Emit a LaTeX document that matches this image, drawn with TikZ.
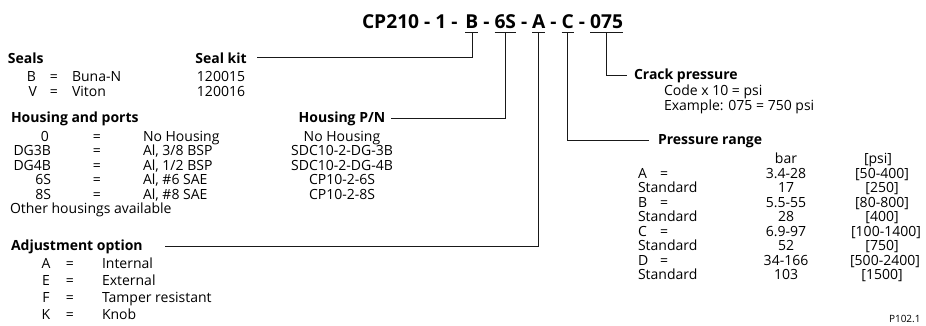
\documentclass[tikz,border=0pt]{standalone}
\usepackage{fontspec}
\setmainfont{Open Sans}
\usetikzlibrary{positioning}

\begin{document}
\begin{tikzpicture}[
    x=1pt, y=-1pt,
    txt/.style={anchor=base west, inner sep=0pt, outer sep=0pt,
      font=\fontsize{14}{16}\selectfont},
    ctr/.style={txt, anchor=base},
    rgt/.style={txt, anchor=base east},
    head/.style={txt, font=\fontsize{14}{16}\selectfont\bfseries},
    chead/.style={head, anchor=base},
    code/.style={txt, font=\fontsize{19.2}{23}\selectfont\bfseries},
    nxt/.style={anchor=base west},
    lead/.style={line width=0.8pt, draw=black!90}
  ]
    \useasboundingbox (0,0) rectangle (926,325);

    \node[code] (cp) at (362,28) {CP210 - 1 -};
    \node[code, right=8pt of cp.base east, nxt] (cB) {B};
    \node[code, right=5pt of cB.base east, nxt] (d1) {-};
    \node[code, right=5pt of d1.base east, nxt] (c6S) {6S};
    \node[code, right=5pt of c6S.base east, nxt] (d2) {-};
    \node[code, right=5pt of d2.base east, nxt] (cA) {A};
    \node[code, right=5pt of cA.base east, nxt] (d3) {-};
    \node[code, right=5pt of d3.base east, nxt] (cC) {C};
    \node[code, right=5pt of cC.base east, nxt] (d4) {-};
    \node[code, right=5pt of d4.base east, nxt] (c075) {075};

    \node[head] (seals) at (8,63) {Seals};
    \node[rgt] at (36,81) {B};
    \node[ctr] at (54,81) {=};
    \node[txt] at (72,81) {Buna-N};
    \node[rgt] at (37,96) {V};
    \node[ctr] at (54,96) {=};
    \node[txt] at (72,96) {Viton};
    \node[chead] (sealkit) at (221,63) {Seal kit};
    \node[ctr] at (221,81) {120015};
    \node[ctr] at (221,96) {120016};

    \node[head] (housing) at (11,122) {Housing and ports};
    \node[chead] (housingpn) at (342,122) {Housing P/N};
    \node[ctr] at (45,141) {0};
    \node[ctr] at (97,141) {=};
    \node[txt] at (143,141) {No Housing};
    \node[ctr] at (342,141) {No Housing};
    \node[rgt] at (51,155.5) {DG3B};
    \node[ctr] at (97,155.5) {=};
    \node[txt] at (143,155.5) {Al, 3/8 BSP};
    \node[ctr] at (342,155.5) {SDC10-2-DG-3B};
    \node[rgt] at (51,170) {DG4B};
    \node[ctr] at (97,170) {=};
    \node[txt] at (143,170) {Al, 1/2 BSP};
    \node[ctr] at (342,170) {SDC10-2-DG-4B};
    \node[rgt] at (51,184.5) {6S};
    \node[ctr] at (97,184.5) {=};
    \node[txt] at (143,184.5) {Al, \#6 SAE};
    \node[ctr] at (342,184.5) {CP10-2-6S};
    \node[rgt] at (51,199) {8S};
    \node[ctr] at (97,199) {=};
    \node[txt] at (143,199) {Al, \#8 SAE};
    \node[ctr] at (342,199) {CP10-2-8S};
    \node[txt] at (10,213.5) {Other housings available};

    \node[head] (adjust) at (11,250) {Adjustment option};
    \node[ctr] at (46,268.5) {A};
    \node[ctr] at (70,268.5) {=};
    \node[txt] at (102,268.5) {Internal};
    \node[ctr] at (46,285.5) {E};
    \node[ctr] at (70,285.5) {=};
    \node[txt] at (102,285.5) {External};
    \node[ctr] at (46,302.5) {F};
    \node[ctr] at (70,302.5) {=};
    \node[txt] at (102,302.5) {Tamper resistant};
    \node[ctr] at (46,319.5) {K};
    \node[ctr] at (70,319.5) {=};
    \node[txt] at (102,319.5) {Knob};

    \node[head] (crack) at (634,79) {Crack pressure};
    \node[txt] at (664,95) {Code x 10 = psi};
    \node[txt] at (664,110) {Example: 075 = 750 psi};

    \node[head] (prange) at (658,144) {Pressure range};
    \node[ctr] at (786,163) {bar};
    \node[ctr] at (878,163) {[psi]};
    \node[txt] at (638,178) {A};
    \node[ctr] at (664,178) {=};
    \node[ctr] at (786,178) {3.4-28};
    \node[ctr] at (882,178) {[50-400]};
    \node[txt] at (638,192.5) {Standard};
    \node[ctr] at (786,192.5) {17};
    \node[ctr] at (882,192.5) {[250]};
    \node[txt] at (638,207) {B};
    \node[ctr] at (664,207) {=};
    \node[ctr] at (786,207) {5.5-55};
    \node[ctr] at (882,207) {[80-800]};
    \node[txt] at (638,221.5) {Standard};
    \node[ctr] at (786,221.5) {28};
    \node[ctr] at (882,221.5) {[400]};
    \node[txt] at (638,236) {C};
    \node[ctr] at (664,236) {=};
    \node[ctr] at (786,236) {6.9-97};
    \node[ctr] at (886,236) {[100-1400]};
    \node[txt] at (638,250.5) {Standard};
    \node[ctr] at (786,250.5) {52};
    \node[ctr] at (882,250.5) {[750]};
    \node[txt] at (638,265) {D};
    \node[ctr] at (664,265) {=};
    \node[ctr] at (786,265) {34-166};
    \node[ctr] at (885,265) {[500-2400]};
    \node[txt] at (638,279.5) {Standard};
    \node[ctr] at (786,279.5) {103};
    \node[ctr] at (882,279.5) {[1500]};

    \node[txt, font=\fontsize{10}{12}\selectfont] (ref) at (889,322) {P102.1};

    \draw[lead] ([yshift=-4pt]cB.base west) -- ([yshift=-4pt]cB.base east);
    \draw[lead] ([yshift=-4pt]c6S.base west) -- ([yshift=-4pt]c6S.base east);
    \draw[lead] ([yshift=-4pt]cA.base west) -- ([yshift=-4pt]cA.base east);
    \draw[lead] ([yshift=-4pt]cC.base west) -- ([yshift=-4pt]cC.base east);
    \draw[lead] ([yshift=-4pt]c075.base west) -- ([yshift=-4pt]c075.base east);

    \draw[lead] ([yshift=-4pt]cB.base) |- ([xshift=10pt]sealkit.east);
    \draw[lead] ([yshift=-4pt]c6S.base) |- ([xshift=6pt]housingpn.east);
    \draw[lead] ([yshift=-4pt]cA.base) |- ([xshift=22pt]adjust.east);
    \draw[lead] ([yshift=-4pt]cC.base) |- ([xshift=-9pt]prange.west);
    \draw[lead] ([yshift=-4pt]c075.base) |- ([xshift=-7pt]crack.west);
  \end{tikzpicture}
\end{document}
